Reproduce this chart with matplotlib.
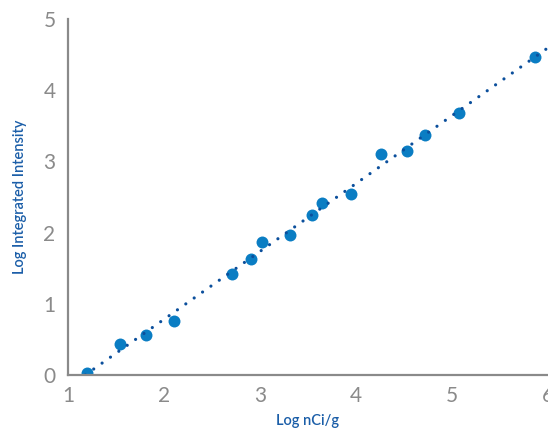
import numpy as np
import matplotlib as mpl
import matplotlib.pyplot as plt
mpl.use('agg')

## data
log_nci = [1.20, 1.54, 1.81, 2.10, 2.71, 2.91, 3.02, 3.31, 3.54, 3.65,
           3.95, 4.26, 4.53, 4.72, 5.07, 5.86]
log_int = [0.03, 0.44, 0.56, 0.76, 1.42, 1.63, 1.87, 1.97, 2.25, 2.41,
           2.54, 3.10, 3.15, 3.37, 3.68, 4.46]
xticks = [1, 2, 3, 4, 5, 6]
yticks = [0, 1, 2, 3, 4, 5]

plt.rcParams['font.family'] = ['Lato', 'DejaVu Sans']

fig = plt.figure(figsize=(5.48, 4.29), dpi=100)
ax = plt.axes([0.124, 0.126, 0.876, 0.830])

ax.plot(log_nci, log_int, 'o', color='#0a7dc3', markersize=8.6,
        markeredgewidth=0, zorder=3)

## linear trendline
k, b = np.polyfit(log_nci, log_int, 1)
xs = np.array([-b / k, 6.0])
ax.plot(xs, k * xs + b, color='#0b4f9c', linewidth=2.3,
        linestyle=(0, (0.01, 3.2)), dash_capstyle='round', zorder=4)

ax.set_xlim(1, 6)
ax.set_ylim(0, 5)
ax.set_xticks(xticks)
ax.set_yticks(yticks)
ax.tick_params(axis='both', length=0, labelsize=15, labelcolor='#8a8a8a')
ax.tick_params(axis='x', pad=8)
ax.tick_params(axis='y', pad=9)
for s in ['top', 'right']:
  ax.spines[s].set_visible(False)
for s in ['left', 'bottom']:
  ax.spines[s].set_color('#8a8a8a')
  ax.spines[s].set_linewidth(1.6)
  ax.spines[s].set_zorder(5)

ax.set_xlabel('Log nCi/g', size=10.5, color='#1b5ea8', fontweight='semibold', labelpad=6)
ax.set_ylabel('Log Integrated Intensity', size=10.5, color='#1b5ea8', fontweight='semibold', labelpad=12)

fig.savefig('out.png', dpi=100)
